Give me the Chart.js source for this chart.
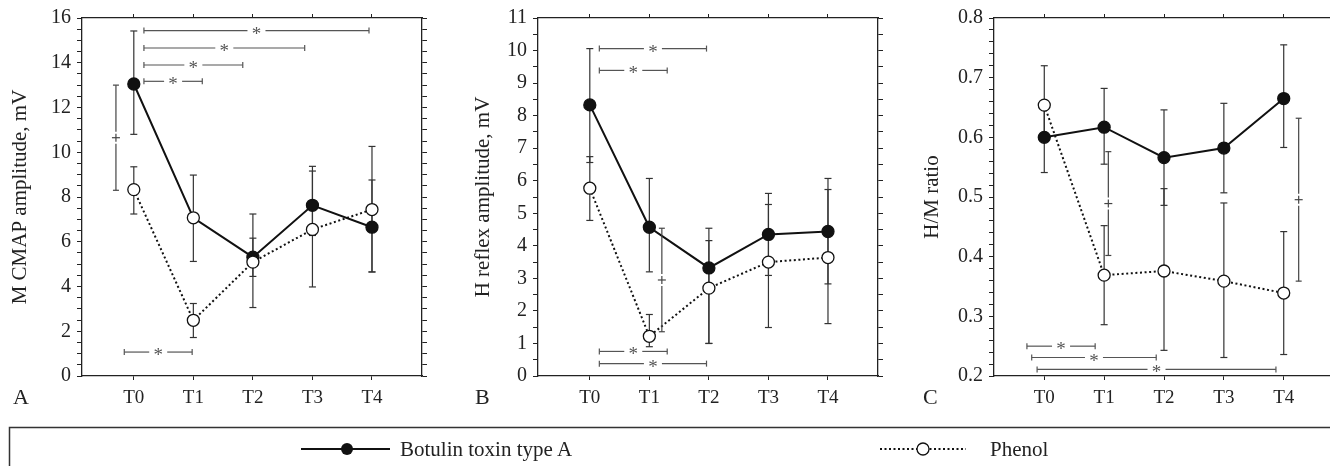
<!DOCTYPE html>
<html>
<head>
<meta charset="utf-8">
<script src="https://cdn.jsdelivr.net/npm/chart.js@4.4.1/dist/chart.umd.min.js"></script>
<style>
  body { margin: 0; width: 1330px; height: 466px; overflow: hidden; background: #fff; position: relative; }
  canvas { position: absolute; top: 0; }
  #overlay { position: absolute; left: 0; top: 0; }
</style>
</head>
<body>
<canvas id="panelA" width="430" height="420" style="left:0px"></canvas>
<canvas id="panelB" width="430" height="420" style="left:456px"></canvas>
<canvas id="panelC" width="430" height="420" style="left:912px"></canvas>

<svg id="overlay" width="1330" height="466" font-family="Liberation Serif" fill="#222">
  <text x="13" y="403.5" font-size="22">A</text>
  <text x="475" y="403.5" font-size="22">B</text>
  <text x="923" y="403.5" font-size="22">C</text>

  <rect x="9.5" y="427.5" width="1340" height="60" fill="none" stroke="#333" stroke-width="1.5"/>
  <line x1="301" y1="449" x2="390" y2="449" stroke="#111" stroke-width="2"/>
  <circle cx="347" cy="449" r="6" fill="#111"/>
  <text x="400" y="456" font-size="21">Botulin toxin type A</text>
  <line x1="880" y1="449" x2="966" y2="449" stroke="#111" stroke-width="2" stroke-dasharray="2 2.5"/>
  <circle cx="923" cy="449" r="6" fill="#fff" stroke="#111" stroke-width="1.3"/>
  <text x="990" y="456" font-size="21">Phenol</text>
</svg>

<script>
const FONT = 'Liberation Serif';
const timeLabels = ['T0', 'T1', 'T2', 'T3', 'T4'];

// A: M CMAP amplitude, mV
const mTickLabels = ['0', '2', '4', '6', '8', '10', '12', '14', '16'];
const mBotulin = [13.05, 7.07, 5.31, 7.63, 6.65];
const mBotulinLow = [10.8, 5.12, 3.06, 6.28, 4.65];
const mBotulinHigh = [15.42, 8.98, 7.24, 9.37, 8.76];
const mPhenol = [8.33, 2.49, 5.09, 6.55, 7.44];
const mPhenolLow = [7.24, 1.72, 4.45, 3.98, 4.65];
const mPhenolHigh = [9.35, 3.24, 6.16, 9.16, 10.26];
const mBrackets = [[0.17, 3.95, 15.44], [0.17, 2.87, 14.66], [0.17, 1.83, 13.9], [0.17, 1.15, 13.17], [-0.16, 0.98, 1.07]];
const mPlus = [[-0.3, 8.3, 13.0]];

// B: H reflex amplitude, mV
const hTickLabels = ['0', '1', '2', '3', '4', '5', '6', '7', '8', '9', '10', '11'];
const hBotulin = [8.33, 4.57, 3.32, 4.35, 4.44];
const hBotulinLow = [6.56, 3.2, 1.0, 3.09, 2.83];
const hBotulinHigh = [10.06, 6.07, 4.54, 5.61, 6.07];
const hPhenol = [5.77, 1.22, 2.7, 3.5, 3.64];
const hPhenolLow = [4.78, 0.9, 1.0, 1.49, 1.61];
const hPhenolHigh = [6.74, 1.89, 4.16, 5.27, 5.73];
const hBrackets = [[0.16, 1.96, 10.06], [0.16, 1.3, 9.39], [0.16, 1.3, 0.755], [0.16, 1.96, 0.38]];
const hPlus = [[1.21, 1.36, 4.54]];

// C: H/M ratio
const rTickLabels = ['0.2', '0.3', '0.4', '0.5', '0.6', '0.7', '0.8'];
const rBotulin = [0.60, 0.617, 0.566, 0.582, 0.665];
const rBotulinLow = [0.541, 0.555, 0.486, 0.507, 0.583];
const rBotulinHigh = [0.654, 0.682, 0.646, 0.657, 0.755];
const rPhenol = [0.654, 0.369, 0.376, 0.359, 0.339];
const rPhenolLow = [0.6, 0.286, 0.243, 0.231, 0.236];
const rPhenolHigh = [0.72, 0.452, 0.514, 0.49, 0.442];
const rBrackets = [[-0.29, 0.85, 0.25], [-0.21, 1.87, 0.231], [-0.12, 3.87, 0.211]];
const rPlus = [[1.07, 0.402, 0.576], [4.25, 0.359, 0.632]];

function buildTicks(min, max, step) {
  const n = Math.round((max - min) / step);
  const out = [];
  for (let k = 0; k <= n; k++) out.push(+(min + k * step).toFixed(4));
  return out;
}

function labelFor(labels, v) {
  const hit = labels.find(l => Math.abs(parseFloat(l) - v) < 1e-6);
  return hit === undefined ? '' : hit;
}

function annotationPlugin(cfg) {
  function seg(ctx, x1, y1, x2, y2) {
    ctx.beginPath(); ctx.moveTo(x1, y1); ctx.lineTo(x2, y2); ctx.stroke();
  }
  return {
    id: 'annot',
    beforeDatasetsDraw(chart) {
      const { ctx, scales: { x, y } } = chart;
      ctx.save();
      ctx.strokeStyle = '#333';
      ctx.lineWidth = 1.2;
      cfg.errors.forEach(([low, high]) => {
        low.forEach((lo, i) => {
          const px = x.getPixelForValue(i);
          const yl = y.getPixelForValue(lo), yh = y.getPixelForValue(high[i]);
          seg(ctx, px, yl, px, yh);
          seg(ctx, px - 3.5, yl, px + 3.5, yl);
          seg(ctx, px - 3.5, yh, px + 3.5, yh);
        });
      });
      ctx.restore();
    },
    afterDatasetsDraw(chart) {
      const { ctx, scales: { x, y } } = chart;
      ctx.save();
      ctx.strokeStyle = '#555';
      ctx.fillStyle = '#555';
      ctx.lineWidth = 1.2;
      ctx.font = '19px "' + FONT + '"';
      ctx.textAlign = 'center';
      ctx.textBaseline = 'alphabetic';
      cfg.brackets.forEach(([a, b, v]) => {
        const x1 = x.getPixelForValue(a), x2 = x.getPixelForValue(b), py = y.getPixelForValue(v);
        const cx = (x1 + x2) / 2;
        seg(ctx, x1, py, cx - 9, py);
        seg(ctx, cx + 9, py, x2, py);
        seg(ctx, x1, py - 3, x1, py + 3);
        seg(ctx, x2, py - 3, x2, py + 3);
        ctx.fillText('*', cx, py + 9);
      });
      ctx.strokeStyle = '#444';
      cfg.plus.forEach(([a, lo, hi]) => {
        const px = x.getPixelForValue(a), y1 = y.getPixelForValue(hi), y2 = y.getPixelForValue(lo);
        const cy = (y1 + y2) / 2;
        seg(ctx, px, y1, px, cy - 6);
        seg(ctx, px, cy + 6, px, y2);
        seg(ctx, px - 3, y1, px + 3, y1);
        seg(ctx, px - 3, y2, px + 3, y2);
        seg(ctx, px, cy - 4, px, cy + 4);
        seg(ctx, px - 4, cy, px + 4, cy);
      });
      ctx.restore();
    }
  };
}

function makePanel(id, cfg) {
  const yTicks = buildTicks(cfg.yMin, cfg.yMax, cfg.minorStep);
  const common = {
    grid: { drawOnChartArea: false, tickLength: 5, color: '#222', lineWidth: 1 },
    border: { color: '#222', width: 1.3 }
  };
  const xTicks = s => { s.ticks = timeLabels.map((t, i) => ({ value: i })); };
  const yTickSet = s => { s.ticks = yTicks.map(v => ({ value: v })); };

  new Chart(document.getElementById(id), {
    type: 'line',
    data: {
      datasets: [
        {
          label: 'Phenol',
          data: cfg.phenol.map((v, i) => ({ x: i, y: v })),
          borderColor: '#111', borderWidth: 2, borderDash: [2, 2.6],
          pointRadius: 6, pointBackgroundColor: '#fff', pointBorderColor: '#111', pointBorderWidth: 1.3,
          tension: 0
        },
        {
          label: 'Botulin toxin type A',
          data: cfg.botulin.map((v, i) => ({ x: i, y: v })),
          borderColor: '#111', borderWidth: 2,
          pointRadius: 6, pointBackgroundColor: cfg.botulinFill || '#111', pointBorderColor: '#111', pointBorderWidth: 1.3,
          tension: 0
        }
      ]
    },
    options: {
      responsive: false,
      animation: false,
      events: [],
      layout: { padding: 0 },
      plugins: { legend: { display: false }, tooltip: { enabled: false } },
      scales: {
        x: {
          type: 'linear', position: 'bottom', min: cfg.xMin, max: 4.84,
          afterBuildTicks: xTicks,
          afterFit: s => { s.height = 44; },
          ticks: { autoSkip: false, maxRotation: 0, padding: 7, color: '#222', font: { family: FONT, size: 19 }, callback: v => timeLabels[v] },
          grid: { drawOnChartArea: false, tickLength: 4, color: '#222', lineWidth: 1 },
          border: common.border
        },
        xTop: {
          type: 'linear', position: 'top', min: cfg.xMin, max: 4.84,
          afterBuildTicks: xTicks,
          afterFit: s => { s.height = 17; },
          ticks: { display: false },
          grid: { drawOnChartArea: false, tickLength: 4, color: '#222', lineWidth: 1 },
          border: common.border
        },
        y: {
          type: 'linear', position: 'left', min: cfg.yMin, max: cfg.yMax,
          afterBuildTicks: yTickSet,
          afterFit: s => { s.width = 82; },
          ticks: { autoSkip: false, padding: 6, color: '#222', font: { family: FONT, size: 20 }, callback: v => labelFor(cfg.yLabels, v) },
          grid: common.grid,
          border: common.border,
          title: { display: true, text: cfg.title, color: '#222', font: { family: FONT, size: 21 }, padding: { top: cfg.titlePad, bottom: 0 } }
        },
        yRight: {
          type: 'linear', position: 'right', min: cfg.yMin, max: cfg.yMax,
          afterBuildTicks: yTickSet,
          afterFit: s => { s.width = 8; },
          ticks: { display: false },
          grid: common.grid,
          border: common.border
        }
      }
    },
    plugins: [annotationPlugin(cfg)]
  });
}

makePanel('panelA', {
  title: 'M CMAP amplitude, mV', titlePad: 8, xMin: -0.87,
  yMin: 0, yMax: 16, minorStep: 0.5, yLabels: mTickLabels,
  botulin: mBotulin, phenol: mPhenol,
  botulinFill: ['#111', '#fff', '#111', '#111', '#111'],
  errors: [[mBotulinLow, mBotulinHigh], [mPhenolLow, mPhenolHigh]],
  brackets: mBrackets, plus: mPlus
});

makePanel('panelB', {
  title: 'H reflex amplitude, mV', titlePad: 15, xMin: -0.87,
  yMin: 0, yMax: 11, minorStep: 0.5, yLabels: hTickLabels,
  botulin: hBotulin, phenol: hPhenol,
  errors: [[hBotulinLow, hBotulinHigh], [hPhenolLow, hPhenolHigh]],
  brackets: hBrackets, plus: hPlus
});

makePanel('panelC', {
  title: 'H/M ratio', titlePad: 8, xMin: -0.84,
  yMin: 0.2, yMax: 0.8, minorStep: 0.02, yLabels: rTickLabels,
  botulin: rBotulin, phenol: rPhenol,
  errors: [[rBotulinLow, rBotulinHigh], [rPhenolLow, rPhenolHigh]],
  brackets: rBrackets, plus: rPlus
});
</script>
</body>
</html>
